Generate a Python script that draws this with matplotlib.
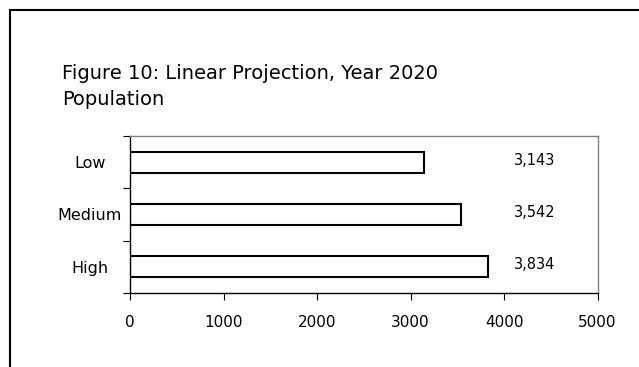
import matplotlib.pyplot as plt
from matplotlib.patches import Rectangle

# Datos de la proyección lineal (población año 2020)
escenarios = ['High', 'Medium', 'Low']
poblacion = [3834, 3542, 3143]
ticks_x = [0, 1000, 2000, 3000, 4000, 5000]

plt.rcParams['font.family'] = ['DejaVu Sans']

fig = plt.figure(figsize=(6.39, 3.67), dpi=100)
ax = fig.add_axes([130 / 639, 74 / 367, 467.5 / 639, 157 / 367])

pos = list(range(len(escenarios)))
ax.barh(pos, poblacion, height=0.4, color='white', edgecolor='black', linewidth=1.5)

# Etiquetas de valor a la derecha
for p, v in zip(pos, poblacion):
    ax.text(0.865, p + 0.04, f'{v:,}', transform=ax.get_yaxis_transform(),
            ha='center', va='center', fontsize=10.5)

ax.set_xlim(0, 5000)
ax.set_ylim(-0.5, len(escenarios) - 0.5)
ax.set_xticks(ticks_x)
ax.set_xticklabels([str(t) for t in ticks_x], fontsize=11)
ax.tick_params(axis='x', length=5, width=0.8, pad=11)

ax.set_yticks(pos)
ax.set_yticklabels(escenarios, fontsize=11.5, ha='center')
ax.tick_params(axis='y', which='major', length=0, pad=29)
ax.set_yticks([p - 0.5 for p in pos] + [len(pos) - 0.5], minor=True)
ax.tick_params(axis='y', which='minor', length=5, width=0.8)

for lado in ['top', 'right']:
    ax.spines[lado].set_color('#808080')
for lado in ['left', 'bottom']:
    ax.spines[lado].set_color('black')
for s in ax.spines.values():
    s.set_linewidth(1.0)

fig.text(62 / 639, 1 - 64 / 367, 'Figure 10: Linear Projection, Year 2020\nPopulation',
         ha='left', va='top', fontsize=14, linespacing=1.45)

# Marco exterior
fig.patches.append(Rectangle((10 / 639, -0.2), 1.2, 0.2 + 357 / 367,
                             transform=fig.transFigure, fill=False,
                             edgecolor='black', linewidth=1.5))

fig.savefig('out.png', dpi=100)
